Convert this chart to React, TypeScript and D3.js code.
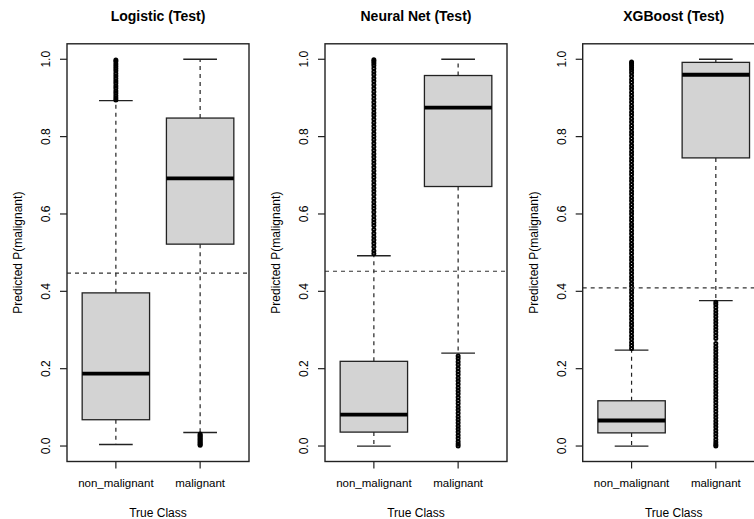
import React from "react";
import * as d3 from "d3";

const classes = ["non_malignant", "malignant"];
const modelTitles = ["Logistic (Test)", "Neural Net (Test)", "XGBoost (Test)"];
const yTicks = [0, 0.2, 0.4, 0.6, 0.8, 1.0];
const thresholds = [0.447, 0.452, 0.409];

// [lower whisker, Q1, median, Q3, upper whisker]
const logisticNonMal = [0.004, 0.068, 0.187, 0.396, 0.893];
const logisticMal = [0.035, 0.522, 0.692, 0.848, 1.0];
const nnNonMal = [0.0, 0.036, 0.081, 0.219, 0.492];
const nnMal = [0.24, 0.671, 0.875, 0.958, 1.0];
const xgbNonMal = [0.0, 0.034, 0.066, 0.117, 0.248];
const xgbMal = [0.376, 0.745, 0.96, 0.992, 1.0];

// outlier points
const logisticNonMalOut = [0.895, 0.9, 0.906, 0.912, 0.918, 0.925, 0.931, 0.938, 0.944, 0.95, 0.957, 0.963, 0.97, 0.976, 0.982, 0.988, 0.994, 0.998];
const logisticMalOut = [0.002, 0.004, 0.007, 0.01, 0.013, 0.016, 0.019, 0.022, 0.025, 0.028, 0.031];
const nnNonMalOut = [0.497, 0.505, 0.515, 0.524, 0.533, 0.541, 0.55, 0.56, 0.57, 0.578, 0.586, 0.595, 0.605, 0.614, 0.622, 0.631, 0.64, 0.65, 0.659, 0.667, 0.676, 0.685, 0.694, 0.703, 0.712, 0.721, 0.73, 0.738, 0.747, 0.756, 0.765, 0.774, 0.783, 0.792, 0.8, 0.809, 0.818, 0.827, 0.836, 0.845, 0.854, 0.862, 0.871, 0.88, 0.889, 0.898, 0.907, 0.916, 0.925, 0.934, 0.943, 0.951, 0.96, 0.968, 0.976, 0.984, 0.99, 0.995, 0.999];
const nnMalOut = [0.0, 0.005, 0.012, 0.02, 0.028, 0.036, 0.044, 0.052, 0.06, 0.068, 0.076, 0.085, 0.093, 0.101, 0.11, 0.118, 0.126, 0.135, 0.143, 0.151, 0.16, 0.168, 0.176, 0.185, 0.193, 0.201, 0.21, 0.218, 0.226, 0.233];
const xgbNonMalOut = [0.252, 0.26, 0.268, 0.277, 0.285, 0.294, 0.302, 0.311, 0.319, 0.328, 0.336, 0.345, 0.353, 0.362, 0.37, 0.379, 0.387, 0.396, 0.404, 0.413, 0.421, 0.43, 0.438, 0.447, 0.455, 0.464, 0.472, 0.481, 0.489, 0.498, 0.506, 0.515, 0.523, 0.532, 0.54, 0.549, 0.557, 0.566, 0.574, 0.583, 0.591, 0.6, 0.608, 0.617, 0.625, 0.634, 0.642, 0.651, 0.659, 0.668, 0.676, 0.685, 0.693, 0.702, 0.71, 0.719, 0.727, 0.736, 0.744, 0.753, 0.761, 0.77, 0.778, 0.787, 0.795, 0.804, 0.812, 0.821, 0.829, 0.838, 0.846, 0.855, 0.863, 0.872, 0.88, 0.889, 0.897, 0.906, 0.914, 0.923, 0.931, 0.94, 0.948, 0.957, 0.965, 0.972, 0.978, 0.984, 0.989, 0.993];
const xgbMalOut = [0.0, 0.004, 0.01, 0.017, 0.025, 0.033, 0.041, 0.049, 0.057, 0.065, 0.073, 0.081, 0.089, 0.097, 0.105, 0.113, 0.121, 0.129, 0.137, 0.145, 0.153, 0.161, 0.169, 0.177, 0.185, 0.193, 0.201, 0.209, 0.217, 0.225, 0.233, 0.241, 0.249, 0.257, 0.265, 0.278, 0.286, 0.294, 0.302, 0.31, 0.318, 0.326, 0.334, 0.342, 0.35, 0.358, 0.366, 0.372];

const stats = [
  [logisticNonMal, logisticMal],
  [nnNonMal, nnMal],
  [xgbNonMal, xgbMal],
];
const outliers = [
  [logisticNonMalOut, logisticMalOut],
  [nnNonMalOut, nnMalOut],
  [xgbNonMalOut, xgbMalOut],
];

const W = 754;
const H = 519;
const panelLefts = [67, 325, 582.7];
const plotW = 182;
const top = 43.8;
const bottom = 461.5;
const font = "'Liberation Sans', Arial, sans-serif";
const ink = "#222";

const y = d3.scaleLinear().domain([-0.04, 1.04]).range([bottom, top]);

function Panel({ idx }: { idx: number }) {
  const left = panelLefts[idx];
  const x = d3
    .scaleBand()
    .domain(classes)
    .range([left, left + plotW])
    .paddingInner(0.2)
    .paddingOuter(0.18);
  const bw = x.bandwidth();
  const cx = (c: string) => (x(c) as number) + bw / 2;
  const mid = left + plotW / 2;

  return (
    <g>
      <text x={mid} y={20.5} textAnchor="middle" fontWeight="bold" fontSize={14} fontFamily={font}>
        {modelTitles[idx]}
      </text>

      {classes.map((c, i) => {
        const [lo, q1, med, q3, hi] = stats[idx][i];
        const xc = cx(c);
        const x0 = x(c) as number;
        return (
          <g key={c}>
            <line x1={xc} x2={xc} y1={y(q3)} y2={y(hi)} stroke={ink} strokeDasharray="4,4" strokeWidth={1.2} />
            <line x1={xc} x2={xc} y1={y(q1)} y2={y(lo)} stroke={ink} strokeDasharray="4,4" strokeWidth={1.2} />
            <line x1={xc - bw / 4} x2={xc + bw / 4} y1={y(hi)} y2={y(hi)} stroke={ink} strokeWidth={1.3} />
            <line x1={xc - bw / 4} x2={xc + bw / 4} y1={y(lo)} y2={y(lo)} stroke={ink} strokeWidth={1.3} />
            <rect x={x0} width={bw} y={y(q3)} height={y(q1) - y(q3)} fill="#d3d3d3" stroke={ink} strokeWidth={1.3} />
            <line x1={x0} x2={x0 + bw} y1={y(med)} y2={y(med)} stroke="#000" strokeWidth={3.8} />
            {outliers[idx][i].map((v, k) => (
              <circle key={k} cx={xc} cy={y(v)} r={1.5} fill="none" stroke="#000" strokeWidth={2} />
            ))}
          </g>
        );
      })}

      <line x1={left} x2={left + plotW} y1={y(thresholds[idx])} y2={y(thresholds[idx])} stroke="#333" strokeDasharray="4,4" strokeWidth={1.1} />

      <rect x={left} y={top} width={plotW} height={bottom - top} fill="none" stroke={ink} strokeWidth={1.4} />

      {yTicks.map((t) => (
        <g key={t}>
          <line x1={left - 7} x2={left} y1={y(t)} y2={y(t)} stroke={ink} strokeWidth={1.2} />
          <text
            transform={`translate(${left - 17},${y(t)}) rotate(-90)`}
            textAnchor="middle"
            fontSize={12}
            fontFamily={font}
          >
            {d3.format(".1f")(t)}
          </text>
        </g>
      ))}
      <text
        transform={`translate(${left - 45},${(top + bottom) / 2}) rotate(-90)`}
        textAnchor="middle"
        fontSize={12}
        fontFamily={font}
      >
        Predicted P(malignant)
      </text>

      {classes.map((c) => (
        <g key={c}>
          <line x1={cx(c)} x2={cx(c)} y1={bottom} y2={bottom + 7} stroke={ink} strokeWidth={1.2} />
          <text x={cx(c)} y={487} textAnchor="middle" fontSize={11.5} fontFamily={font}>
            {c}
          </text>
        </g>
      ))}
      <text x={mid} y={517} textAnchor="middle" fontSize={12} fontFamily={font}>
        True Class
      </text>
    </g>
  );
}

export default function App() {
  return (
    <div style={{ position: "absolute", left: 0, top: 0 }}>
      <svg width={W} height={H} style={{ display: "block", background: "#fff" }}>
        {modelTitles.map((_, i) => (
          <Panel key={i} idx={i} />
        ))}
      </svg>
    </div>
  );
}
